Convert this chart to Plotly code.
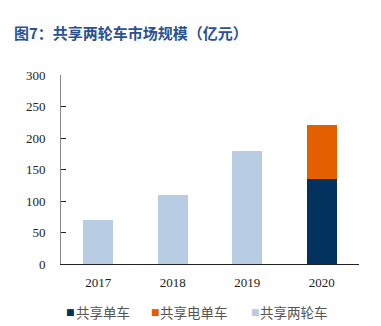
import plotly.graph_objects as go

years = ["2017", "2018", "2019", "2020"]
bike = [None, None, None, 135]
ebike = [None, None, None, 85]
two_wheel = [70, 110, 180, None]
y_ticks = [0, 50, 100, 150, 200, 250, 300]

series = [
    ("共享单车", bike, "#03325F"),
    ("共享电单车", ebike, "#E45F00"),
    ("共享两轮车", two_wheel, "#B8CCE3"),
]

W, H = 381, 326
L, R, T, B = 61, 22, 75, 62
pw, ph = W - L - R, H - T - B
SERIF = "Liberation Serif, Times New Roman, serif"

fig = go.Figure()
for name, vals, col in series:
    fig.add_trace(go.Bar(x=years, y=vals, name=name, marker=dict(color=col, line=dict(width=0))))

def px(x):
    return (x - L) / pw

def py(y):
    return (H - B - y) / ph

annotations = [dict(text="<b>图7：共享两轮车市场规模（亿元）</b>", xref="paper", yref="paper",
                    x=px(12), y=py(33), xanchor="left", yanchor="middle", showarrow=False,
                    font=dict(family="Noto Sans CJK SC", size=15, color="#2A5290"))]

# manual legend (marker glyph + label)
leg_marker_x = [64, 149, 249]
leg_text_x = [74, 158, 258]
for (name, vals, col), mx, tx in zip(series, leg_marker_x, leg_text_x):
    annotations.append(dict(text="■", xref="paper", yref="paper", x=px(mx), y=py(312),
                            xanchor="left", yanchor="middle", showarrow=False,
                            font=dict(family="DejaVu Sans", size=9, color=col)))
    annotations.append(dict(text=name, xref="paper", yref="paper", x=px(tx), y=py(311.5),
                            xanchor="left", yanchor="middle", showarrow=False,
                            font=dict(family="Noto Sans CJK SC", size=13.5, color="#555555")))

fig.update_layout(
    width=W, height=H,
    margin=dict(l=L, r=R, t=T, b=B),
    barmode="stack", bargap=0.6,
    plot_bgcolor="white", paper_bgcolor="white",
    font=dict(family=SERIF, size=13, color="#222"),
    showlegend=False,
    annotations=annotations,
)
fig.update_yaxes(range=[0, 300], tickvals=y_ticks, showline=True, linecolor="#888", linewidth=1,
                 ticks="inside", ticklen=5, tickcolor="#222", showgrid=False, zeroline=False,
                 ticklabelstandoff=12, tickfont=dict(family=SERIF, size=13, color="#222"))
fig.update_xaxes(showline=True, linecolor="#222", linewidth=1, ticks="", showgrid=False,
                 ticklabelstandoff=6, tickfont=dict(family=SERIF, size=13, color="#222"))
fig.write_html("out.html")
